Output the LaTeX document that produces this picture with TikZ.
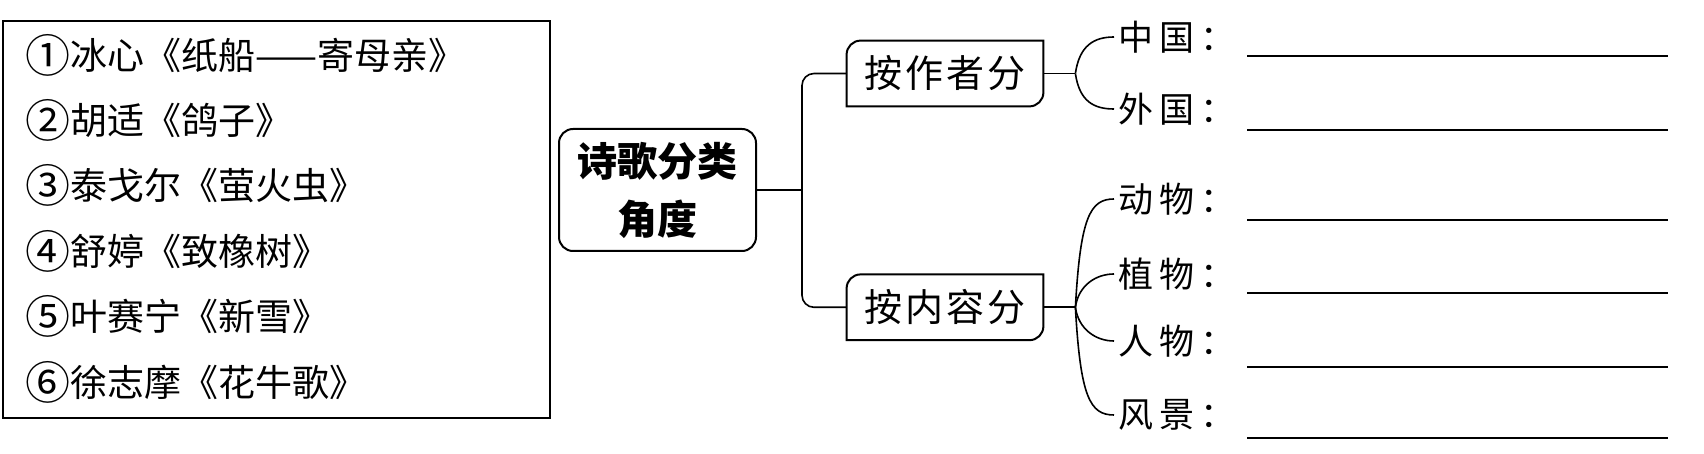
\documentclass[tikz,border=0pt]{standalone}
\usepackage{fontspec}
\newfontfamily\cjk{Noto Sans CJK SC}
\newfontfamily\cjkwide[LetterSpace=8]{Noto Sans CJK SC}
\newfontfamily\cjkleaf[LetterSpace=18]{Noto Sans CJK SC}
\newcommand{\circnum}[1]{\raisebox{-1.5pt}{\fontsize{22.5pt}{20pt}\selectfont #1}}
\usetikzlibrary{positioning}

\begin{document}
\begin{tikzpicture}[x=0.5pt, y=-0.5pt]

  % Define block styles
  \tikzstyle{listbox} = [rectangle, draw, line width=1pt,
    minimum width=273.5pt, minimum height=198.5pt, inner sep=0pt]
  \tikzstyle{poem} = [anchor=west, inner sep=0pt,
    font=\cjk\fontsize{18.5pt}{20pt}\selectfont]
  \tikzstyle{rootbox} = [rectangle, draw, line width=1pt, rounded corners=7pt,
    minimum width=98.5pt, minimum height=61pt, align=center,
    font=\cjk\bfseries\fontsize{20pt}{29pt}\selectfont]
  \tikzstyle{sortbox} = [rectangle, minimum width=98pt, minimum height=32.5pt,
    font=\cjkwide\fontsize{19pt}{21pt}\selectfont]
  \tikzstyle{leaf} = [anchor=west, inner sep=2pt,
    font=\cjkleaf\fontsize{17.5pt}{19pt}\selectfont]
  \tikzstyle{line} = [draw, line width=0.8pt]
  \tikzstyle{blank} = [draw, line width=1.2pt]

  \useasboundingbox (0,0) rectangle (1704,454);

  % Poem list
  \node [listbox] (list) at (276.5,219.5) {};
  \foreach \i/\num/\poem in {1/①/冰心《纸船——寄母亲》, 2/②/胡适《鸽子》, 3/③/泰戈尔《萤火虫》,
      4/④/舒婷《致橡树》, 5/⑤/叶赛宁《新雪》, 6/⑥/徐志摩《花牛歌》}
    \node [poem] (p\i) at (25,{55+65.4*(\i-1)}) {\circnum{\num}\poem};

  % Nodes
  \node [rootbox] (root) at (657.5,190) {诗歌分类\\角度};
  \node [sortbox] (byauthor) at (945,73.5) {按作者分};
  \node [sortbox, below=84pt of byauthor] (bycontent) {按内容分};
  \foreach \b in {byauthor, bycontent}
    \draw [line width=1pt] (\b.south west) -- ([yshift=-7pt]\b.north west)
      arc[start angle=180, end angle=90, radius=7pt] -- (\b.north east)
      -- ([yshift=7pt]\b.south east) arc[start angle=0, end angle=-90, radius=7pt] -- cycle;

  % Leaves and answer lines
  \foreach \nm/\lbl/\y/\yl in {cn/中国/37/56, fg/外国/109/130, dw/动物/199/220,
      zw/植物/274/293, rw/人物/341/367, fj/风景/415/438} {
    \node [leaf] (\nm) at (1114,\y) {\lbl{}：};
    \path [blank] (1247,\yl) -- (1668,\yl);
  }

  % Paths
  \coordinate (j1) at ([xshift=22.5pt]root.east);
  \path [line] (root.east) -- (j1);
  \path [line, rounded corners=6pt] (j1) |- (byauthor.west);
  \path [line, rounded corners=6pt] (j1) |- (bycontent.west);

  \coordinate (b1) at ([xshift=16pt]byauthor.east);
  \coordinate (b2) at ([xshift=16pt]bycontent.east);
  \path [line] (byauthor.east) -- (b1);
  \path [line] (b1) .. controls +(4,-28) and +(-20,0) .. (cn.west);
  \path [line] (b1) .. controls +(4,28) and +(-20,0) .. (fg.west);
  \path [line] (bycontent.east) -- (b2);
  \path [line] (b2) .. controls +(5,-90) and +(-24,0) .. (dw.west);
  \path [line] (b2) .. controls +(3,-22) and +(-18,0) .. (zw.west);
  \path [line] (b2) .. controls +(3,22) and +(-18,0) .. (rw.west);
  \path [line] (b2) .. controls +(5,90) and +(-24,0) .. (fj.west);
\end{tikzpicture}
\end{document}
